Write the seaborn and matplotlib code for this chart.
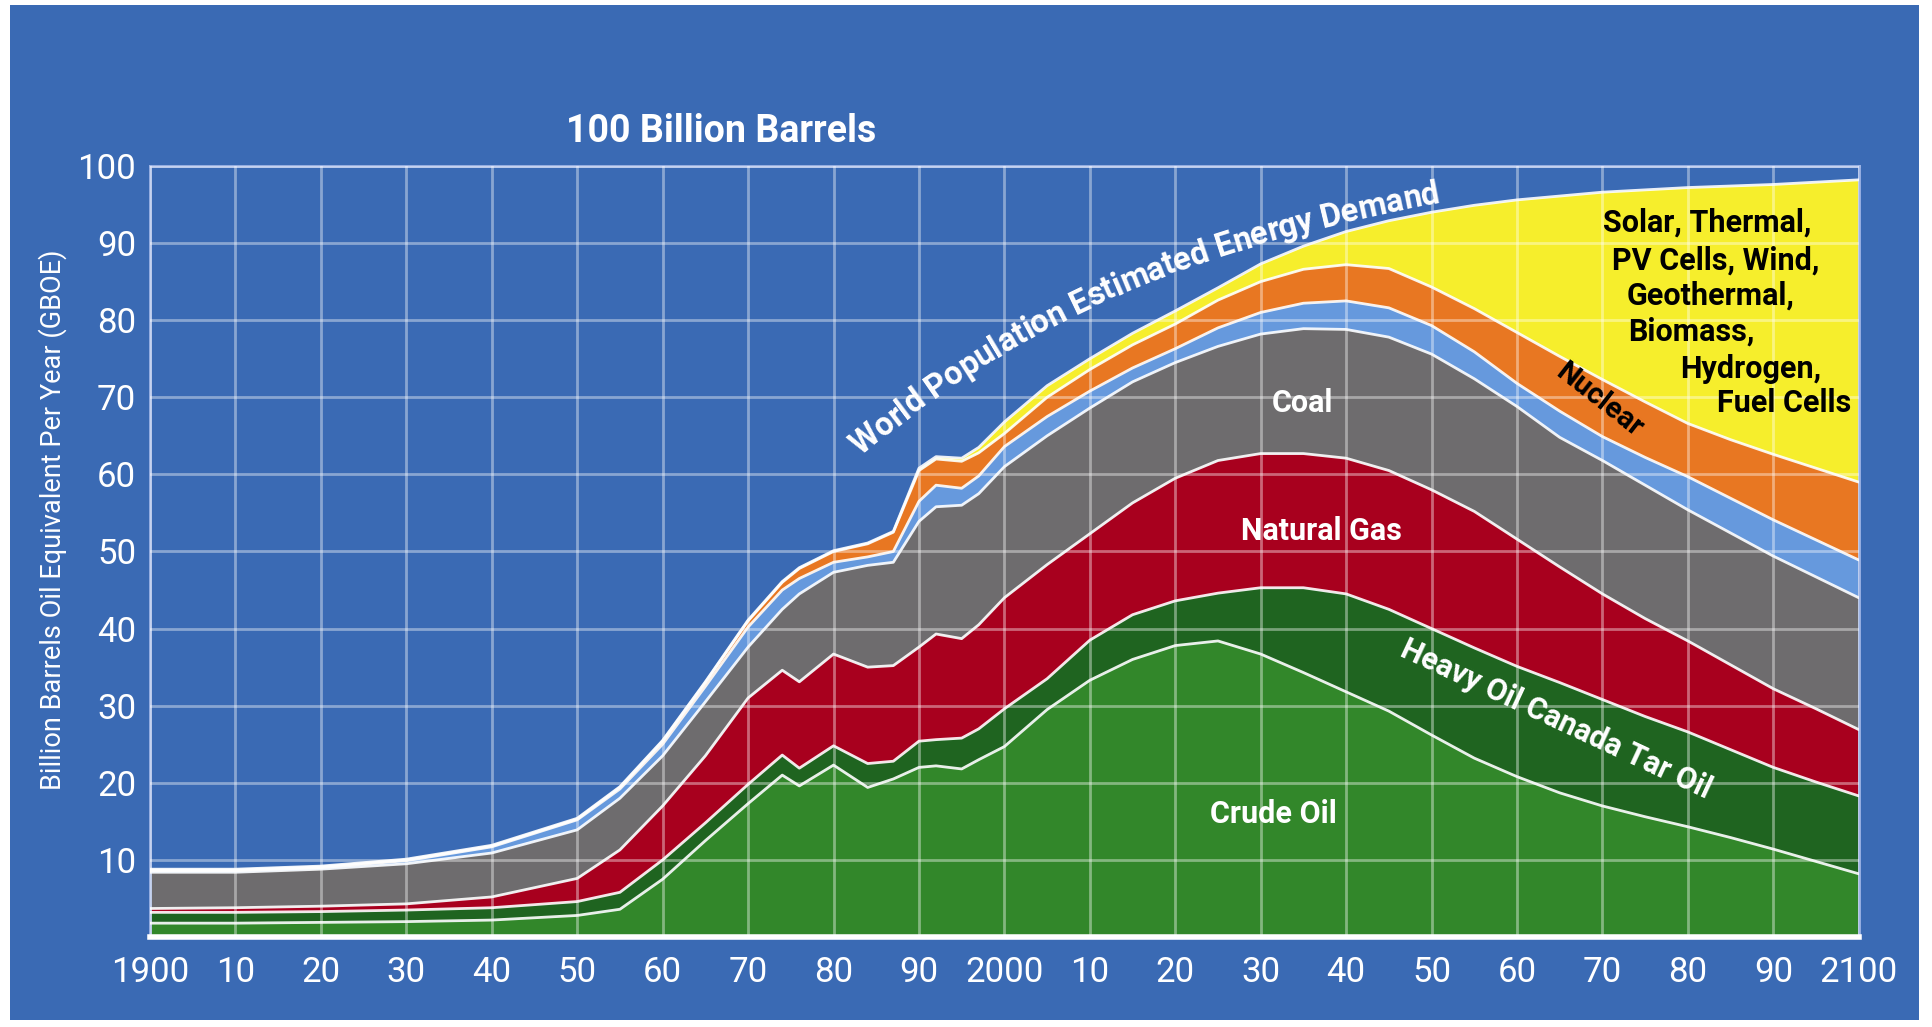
import matplotlib
matplotlib.use("Agg")
import matplotlib.pyplot as plt
from matplotlib.patches import Rectangle
from matplotlib.font_manager import FontProperties, findfont, get_font
from matplotlib.transforms import IdentityTransform
import numpy as np
import seaborn as sns

# values (Billion Barrels Oil Equivalent per year, stacked tops)
years = [1900, 1910, 1920, 1930, 1940, 1950, 1955, 1960, 1965, 1970, 1974, 1976, 1980, 1984, 1987,
         1990, 1992, 1995, 1997, 2000, 2005, 2010, 2015, 2020, 2025, 2030, 2035, 2040, 2045, 2050,
         2055, 2060, 2065, 2070, 2075, 2080, 2085, 2090, 2095, 2100]

crude_top = [1.8, 1.8, 1.9, 2.0, 2.2, 2.8, 3.6, 7.5, 12.5, 17.3, 21.0, 19.6, 22.3, 19.4, 20.5,
             22.0, 22.2, 21.8, 23.0, 24.7, 29.5, 33.3, 36.0, 37.8, 38.4, 36.7, 34.3, 31.8, 29.3, 26.2,
             23.2, 20.8, 18.7, 17.0, 15.6, 14.3, 12.9, 11.4, 9.8, 8.2]
heavy_top = [3.2, 3.2, 3.3, 3.5, 3.8, 4.6, 5.8, 10.0, 14.8, 19.8, 23.6, 21.9, 24.8, 22.5, 22.8,
             25.4, 25.6, 25.8, 27.0, 29.6, 33.5, 38.5, 41.8, 43.6, 44.6, 45.3, 45.3, 44.5, 42.5, 40.0,
             37.5, 35.1, 33.0, 30.8, 28.6, 26.6, 24.3, 22.0, 20.1, 18.3]
gas_top = [3.7, 3.8, 4.0, 4.3, 5.2, 7.6, 11.3, 17.0, 23.5, 31.0, 34.6, 33.1, 36.7, 35.0, 35.2,
           37.6, 39.3, 38.7, 40.5, 44.0, 48.3, 52.3, 56.3, 59.5, 61.8, 62.7, 62.7, 62.1, 60.5, 58.0,
           55.2, 51.6, 48.0, 44.5, 41.3, 38.4, 35.3, 32.2, 29.6, 26.9]
coal_top = [8.4, 8.4, 8.8, 9.5, 10.9, 13.9, 18.0, 23.5, 30.5, 37.6, 42.5, 44.5, 47.3, 48.2, 48.6,
            53.9, 55.8, 56.0, 57.5, 61.0, 65.0, 68.6, 72.0, 74.5, 76.6, 78.2, 78.9, 78.8, 77.8, 75.6,
            72.4, 68.8, 64.8, 61.8, 58.6, 55.4, 52.4, 49.4, 46.7, 44.0]
hydro_top = [8.6, 8.6, 9.0, 9.9, 11.7, 15.2, 19.2, 25.0, 32.5, 40.2, 45.0, 46.5, 48.6, 49.3, 50.0,
             56.5, 58.6, 58.2, 59.8, 63.6, 67.5, 70.8, 73.8, 76.3, 79.0, 81.0, 82.2, 82.5, 81.6, 79.3,
             75.9, 71.8, 68.2, 64.9, 62.2, 59.7, 56.9, 54.1, 51.5, 48.9]
nuclear_top = [8.7, 8.7, 9.1, 10.0, 11.8, 15.3, 19.4, 25.4, 33.0, 41.0, 46.0, 47.8, 50.0, 51.0, 52.5,
               60.5, 62.0, 61.7, 62.8, 65.3, 70.0, 73.6, 76.8, 79.5, 82.6, 85.0, 86.6, 87.2, 86.7, 84.3,
               81.5, 78.4, 75.3, 72.3, 69.4, 66.6, 64.5, 62.6, 60.8, 59.0]
demand_top = [8.8, 8.8, 9.2, 10.1, 11.9, 15.4, 19.5, 25.5, 33.1, 41.1, 46.1, 47.9, 50.1, 51.1, 52.6,
              60.8, 62.3, 62.1, 63.5, 66.8, 71.5, 75.0, 78.3, 81.2, 84.2, 87.3, 89.6, 91.5, 92.9, 94.0,
              94.9, 95.6, 96.1, 96.6, 96.9, 97.2, 97.4, 97.6, 97.9, 98.2]

layer_tops = [crude_top, heavy_top, gas_top, coal_top, hydro_top, nuclear_top, demand_top]
layer_colors = ["#32872A", "#1F6420", "#A8001E", "#6E6C6E", "#6699DD", "#E87722", "#F6EE2C"]

xtick_years = list(range(1900, 2101, 10))
xtick_labels = ["1900", "10", "20", "30", "40", "50", "60", "70", "80", "90",
                "2000", "10", "20", "30", "40", "50", "60", "70", "80", "90", "2100"]
ytick_values = list(range(10, 101, 10))

# centre line of the curved "demand" caption (year, value)
demand_text = "World Population Estimated Energy Demand"
guide_years = [1986.9, 1999.5, 2015.3, 2031.2, 2045.2]
guide_values = [67.7, 77.0, 86.0, 91.7, 95.6]
demand_text_start = 1982.3

renewable_lines = [("Solar, Thermal,", 2082.3, 92.6), ("PV Cells, Wind,", 2083.3, 87.7),
                   ("Geothermal,", 2082.7, 83.2), ("Biomass,", 2080.4, 78.5),
                   ("Hydrogen,", 2087.3, 73.7), ("Fuel Cells", 2091.3, 69.2)]

bgColor = "#3A6AB4"
DPI = 100

sns.set_theme(style="white")
plt.rcParams["font.family"] = ["Roboto", "DejaVu Sans"]


def curvedText(fig, ax, text, gYears, gValues, startYear, size, color):
    # place each character along a smooth guide (display pixels)
    pts = ax.transData.transform(np.column_stack([gYears, gValues]))
    coef = np.polyfit(pts[:, 0], pts[:, 1], 3)
    x0 = ax.transData.transform((startYear, 0))[0]
    xs = np.linspace(x0 - 50, pts[-1, 0] + 400, 3000)
    ys = np.polyval(coef, xs)
    seg = np.hypot(np.diff(xs), np.diff(ys))
    arc = np.concatenate([[0], np.cumsum(seg)])
    prop = FontProperties(family="Roboto", weight="bold", size=size)
    font = get_font(findfont(prop))
    font.set_size(size, DPI)
    adv = []
    for ch in text:
        adv.append(font.load_char(ord(ch)).linearHoriAdvance / 65536)
    s = np.interp(x0, xs, arc)
    baseShift = -0.36 * size * DPI / 72
    for ch, a in zip(text, adv):
        sc = s + a / 2
        cx = np.interp(sc, arc, xs)
        cy = np.interp(sc, arc, ys)
        slope = np.polyval(np.polyder(coef), cx)
        ang = np.arctan(slope)
        bx = cx - baseShift * np.sin(ang)
        by = cy + baseShift * np.cos(ang)
        if ch != " ":
            fig.text(bx, by, ch, transform=IdentityTransform(), rotation=np.degrees(ang),
                     rotation_mode="anchor", ha="center", va="baseline", color=color,
                     fontsize=size, fontweight="bold", zorder=5)
        s += a


fig = plt.figure(figsize=(19.33, 10.27), dpi=DPI, facecolor="white")
fig.patches.append(Rectangle((0.005, 0.007), 0.988, 0.988, transform=fig.transFigure,
                             facecolor=bgColor, edgecolor="none", zorder=-10))
ax = fig.add_axes([0.0776, 0.0876, 0.884, 0.7508])
ax.set_facecolor(bgColor)

bottoms = [np.zeros(len(years))] + [np.array(t) for t in layer_tops[:-1]]
for bottom, top, color in zip(bottoms, layer_tops, layer_colors):
    ax.fill_between(years, bottom, top, color=color, lw=0, zorder=1)
for top in layer_tops:
    sns.lineplot(x=years, y=top, ax=ax, color="white", lw=2, alpha=0.9, zorder=3, legend=False)

ax.set_xlim(1900, 2100)
ax.set_ylim(0, 100)
ax.set_xticks(xtick_years)
ax.set_xticklabels(xtick_labels)
ax.set_yticks(ytick_values)
ax.set_yticklabels([str(v) for v in ytick_values])
ax.set_axisbelow(False)
ax.grid(True, color="white", alpha=0.4, lw=2)
ax.tick_params(axis="both", colors="white", labelsize=25, length=0)
ax.tick_params(axis="x", pad=14)
ax.tick_params(axis="y", pad=10)
ax.set_xlabel("")
ax.set_ylabel("")
for s in ["left", "top", "right"]:
    ax.spines[s].set_color("#9FB5E6")
    ax.spines[s].set_linewidth(2)
ax.spines["bottom"].set_color("white")
ax.spines["bottom"].set_linewidth(4)

fig.text(0.0274, 0.494, "Billion Barrels Oil Equivalent Per Year (GBOE)", rotation=90,
         ha="center", va="center", color="white", fontsize=19.5)
fig.text(0.373, 0.8715, "100 Billion Barrels", ha="center", va="center", color="white",
         fontsize=27, fontweight="bold")

curvedText(fig, ax, demand_text, guide_years, guide_values, demand_text_start, 23.5, "white")

ax.text(2034.9, 69.2, "Coal", ha="center", va="center", color="white", fontsize=22, fontweight="bold", zorder=5)
ax.text(2037.1, 52.6, "Natural Gas", ha="center", va="center", color="white", fontsize=22, fontweight="bold", zorder=5)
ax.text(2031.5, 15.9, "Crude Oil", ha="center", va="center", color="white", fontsize=22, fontweight="bold", zorder=5)
ax.text(2064.6, 28.3, "Heavy Oil Canada Tar Oil", rotation=-25, rotation_mode="anchor", ha="center",
        va="center", color="white", fontsize=22, fontweight="bold", zorder=5)
ax.text(2069.6, 69.6, "Nuclear", rotation=-38, rotation_mode="anchor", ha="center", va="center",
        color="black", fontsize=21, fontweight="bold", zorder=5)
for line, x, y in renewable_lines:
    ax.text(x, y, line, ha="center", va="center", color="black", fontsize=22, fontweight="bold", zorder=5)

fig.savefig("out.png", dpi=DPI, facecolor=fig.get_facecolor())
